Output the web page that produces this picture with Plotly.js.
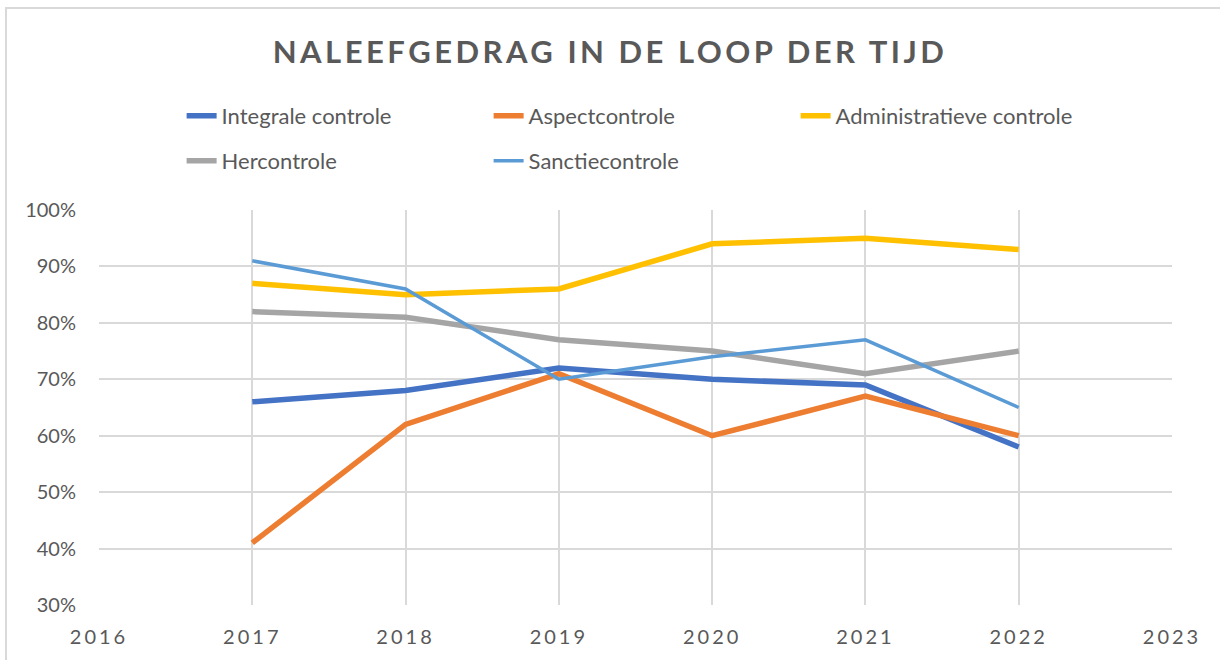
<!DOCTYPE html>
<html>
<head>
<meta charset="utf-8">
<script src="https://cdn.plot.ly/plotly-3.0.1.min.js"></script>
<style>
html,body{margin:0;padding:0;background:#fff;}
#chart{width:1220px;height:660px;}
.gtitle{letter-spacing:3.5px;}
.xtick text{letter-spacing:3px;}
</style>
</head>
<body>
<div id="chart"></div>
<script>
const years = [2017, 2018, 2019, 2020, 2021, 2022];
const integrale = [0.66, 0.68, 0.72, 0.70, 0.69, 0.58];
const aspect = [0.41, 0.62, 0.71, 0.60, 0.67, 0.60];
const administratief = [0.87, 0.85, 0.86, 0.94, 0.95, 0.93];
const hercontrole = [0.82, 0.81, 0.77, 0.75, 0.71, 0.75];
const sanctie = [0.91, 0.86, 0.70, 0.74, 0.77, 0.65];
const names = ['Integrale controle', 'Aspectcontrole', 'Administratieve controle', 'Hercontrole', 'Sanctiecontrole'];
const xTicks = [2016, 2017, 2018, 2019, 2020, 2021, 2022, 2023];

const series = [integrale, aspect, administratief, hercontrole, sanctie];
const colors = ['#4472C4', '#ED7D31', '#FFC000', '#A5A5A5', '#5B9BD5'];
const widths = [5.5, 5.5, 5.5, 5.5, 3.5];
const legends = ['legend', 'legend', 'legend', 'legend2', 'legend2'];

const traces = series.map((s, i) => ({
  type: 'scatter', mode: 'lines', x: years, y: s, name: names[i],
  line: {color: colors[i], width: widths[i]},
  legend: legends[i], hoverinfo: 'x+y+name'
}));

const tickFont = {family: 'Lato, "Open Sans", sans-serif', size: 20, color: '#595959'};
const legendCommon = {
  orientation: 'h', xanchor: 'left', yanchor: 'middle',
  x: 0.077, entrywidth: 262, entrywidthmode: 'pixels',
  font: {family: 'Lato, "Open Sans", sans-serif', size: 22, color: '#595959'},
  bgcolor: 'rgba(0,0,0,0)', borderwidth: 0, traceorder: 'normal'
};

const layout = {
  width: 1220, height: 660,
  margin: {l: 99, r: 48, t: 210, b: 55},
  paper_bgcolor: '#fff', plot_bgcolor: '#fff',
  title: {
    text: '<b>NALEEFGEDRAG IN DE LOOP DER TIJD</b>',
    font: {family: 'Lato, "Open Sans", sans-serif', size: 31, color: '#595959'},
    x: 0.5, xanchor: 'center', y: 1 - 52/660, yanchor: 'middle', yref: 'container'
  },
  xaxis: {
    range: [2016, 2023], tickvals: xTicks, ticktext: xTicks.map(String),
    showgrid: true, gridcolor: '#d9d9d9', gridwidth: 2,
    zeroline: false, showline: false, ticks: '', ticklabelstandoff: 18,
    tickfont: tickFont, fixedrange: true
  },
  yaxis: {
    range: [0.3, 1.0], dtick: 0.1, tick0: 0.3, tickformat: '.0%',
    showgrid: true, gridcolor: '#d9d9d9', gridwidth: 2,
    zeroline: false, showline: false, ticks: '', ticklabelstandoff: 22,
    tickfont: tickFont, fixedrange: true
  },
  showlegend: true,
  legend: Object.assign({}, legendCommon, {y: (605 - 116) / 395}),
  legend2: Object.assign({}, legendCommon, {y: (605 - 161) / 395}),
  shapes: [{
    type: 'rect', xref: 'paper', yref: 'paper', layer: 'below',
    x0: (6 - 99) / 1073, x1: (1240 - 99) / 1073,
    y0: (605 - 700) / 395, y1: (605 - 8) / 395,
    line: {color: '#d9d9d9', width: 2}, fillcolor: 'rgba(0,0,0,0)'
  }]
};

Plotly.newPlot('chart', traces, layout, {displayModeBar: false});
</script>
</body>
</html>
